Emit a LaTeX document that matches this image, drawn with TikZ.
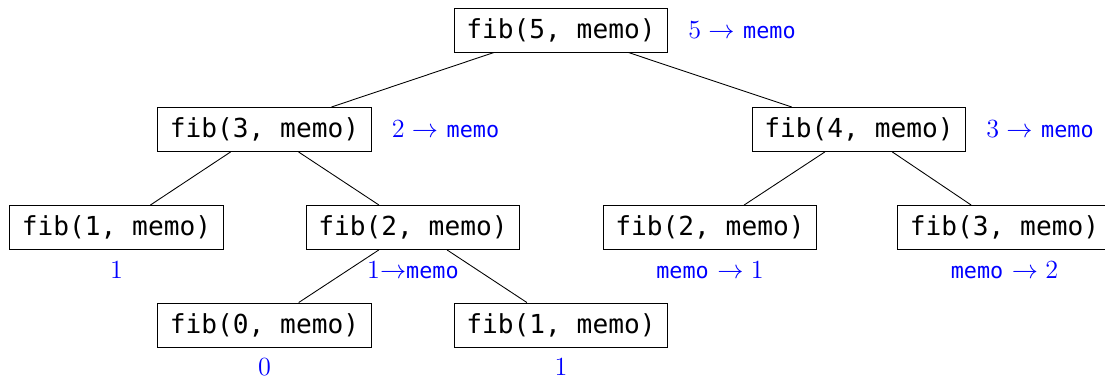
\documentclass[tikz,border=0pt]{standalone}
\usepackage{fontspec}
\setmonofont{DejaVu Sans Mono}
\usetikzlibrary{positioning}
\newcommand{\mm}{{\normalsize\texttt{memo}}}

\begin{document}
\begin{tikzpicture}[x=0.4585pt,y=0.4585pt,
  call/.style={draw,font=\large\ttfamily,minimum width=98pt,minimum height=20.2pt,inner sep=0pt},
  memo/.style={text=blue,font=\large,inner sep=1pt},
  node distance=8pt]
\useasboundingbox (0,0) rectangle (1105,379);
% calls
\node[call] (f5) at (561,349) {fib(5, memo)};
\node[call] (f3) at (264.5,249.5) {fib(3, memo)};
\node[call] (f4) at (859,249.5) {fib(4, memo)};
\node[call] (f1a) at (116.5,151.5) {fib(1, memo)};
\node[call] (f2a) at (413,151.5) {fib(2, memo)};
\node[call] (f2b) at (710,151.5) {fib(2, memo)};
\node[call] (f3b) at (1004.5,151.5) {fib(3, memo)};
\node[call] (f0) at (264.5,54) {fib(0, memo)};
\node[call] (f1b) at (561,54) {fib(1, memo)};
% edges
\draw (f5) -- (f3);
\draw (f5) -- (f4);
\draw (f3) -- (f1a);
\draw (f3) -- (f2a);
\draw (f4) -- (f2b);
\draw (f4) -- (f3b);
\draw (f2a) -- (f0);
\draw (f2a) -- (f1b);
% memo notes
\node[memo,right=of f5] (m5) {$5\rightarrow$ \mm};
\node[memo,right=of f3] (m3) {$2\rightarrow$ \mm};
\node[memo,right=of f4] (m4) {$3\rightarrow$ \mm};
\node[memo,below=4pt of f1a] (m1a) {$1$};
\node[memo,below=4pt of f2a] (m2a) {$1{\rightarrow}$\mm};
\node[memo,below=4pt of f2b] (m2b) {\mm{} $\rightarrow1$};
\node[memo,below=4pt of f3b] (m3b) {\mm{} $\rightarrow2$};
\node[memo,below=4pt of f0] (m0) {$0$};
\node[memo,below=4pt of f1b] (m1b) {$1$};
\end{tikzpicture}
\end{document}
